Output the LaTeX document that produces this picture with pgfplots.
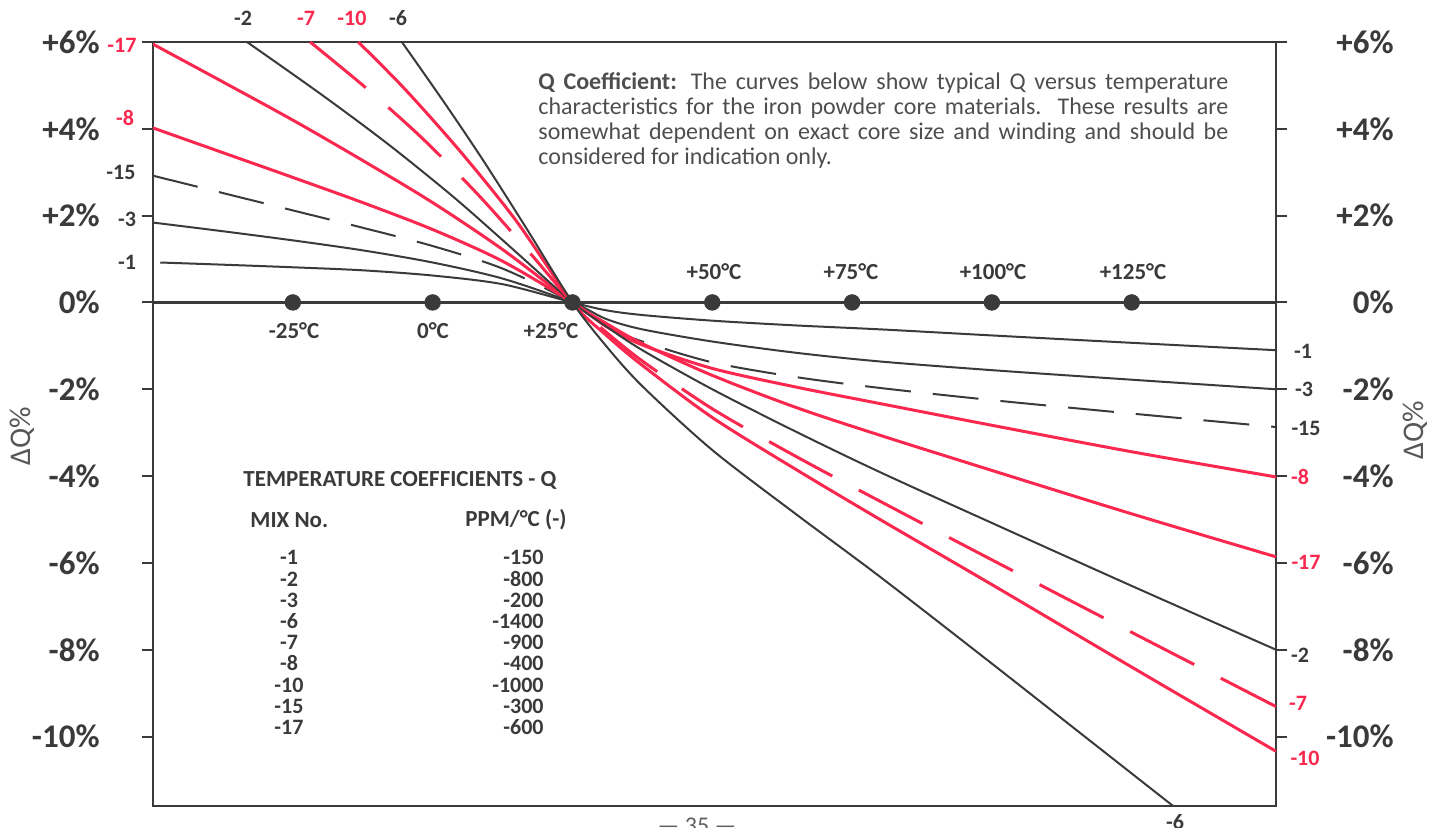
\documentclass[border=0pt]{standalone}
\usepackage{pgfplots}
\pgfplotsset{compat=1.18}
\usepackage{fontspec}
\setmainfont{Carlito}
\definecolor{ink}{RGB}{58,58,58}
\definecolor{qred}{RGB}{250,40,78}
\begin{document}
\begin{tikzpicture}[
  ylab/.style={font=\fontsize{16.5}{16.5}\selectfont\bfseries, text=ink, inner sep=0pt, anchor=east},
  clab/.style={font=\fontsize{11}{11}\selectfont\bfseries, text=ink, inner sep=0pt},
  rlab/.style={clab, text=qred},
  tlab/.style={font=\fontsize{11.5}{11.5}\selectfont\bfseries, text=ink, inner sep=0pt},
  tab/.style={font=\fontsize{11.5}{11.5}\selectfont\bfseries, text=ink, inner sep=0pt},
  tabn/.style={font=\fontsize{11}{11}\selectfont\bfseries, text=ink, inner sep=0pt},
]
\begin{axis}[
  at={(0pt,0pt)}, anchor=south west,
  scale only axis, width=561.5pt, height=382pt,
  xmin=-50, xmax=150.8, ymin=-11.6, ymax=6,
  axis line style={ink, line width=1pt},
  xtick=\empty, ytick={-10,-8,-6,-4,-2,0,2,4,6}, yticklabel=\empty,
  ytick pos=both, tick align=outside, major tick length=5.5pt,
  every tick/.style={ink, line width=1pt},
  clip=true,
]
\addplot[ink, line width=1.5pt] coordinates {(-50,0) (150.8,0)};
% -1
\addplot[ink, line width=1pt, smooth] coordinates {(-48.7,0.92) (-37.5,0.87) (-25,0.81) (-12.5,0.74) (0,0.62) (12.5,0.42) (25,0) (31,-0.18) (37.5,-0.29) (50,-0.42) (65,-0.53) (80,-0.62) (100,-0.76) (125,-0.93) (150.8,-1.1)};
% -3
\addplot[ink, line width=1pt, smooth] coordinates {(-50,1.84) (-37.5,1.64) (-25,1.43) (-12.5,1.2) (0,0.92) (12.5,0.55) (25,0) (31,-0.38) (37.5,-0.62) (50,-0.9) (65,-1.16) (80,-1.36) (100,-1.56) (125,-1.78) (150.8,-2.0)};
% -15
\addplot[ink, line width=1pt, smooth, dash pattern=on 23pt off 11pt] coordinates {(-50,2.92) (-37.5,2.52) (-25,2.12) (-12.5,1.72) (0,1.3) (12.5,0.78) (25,0) (31,-0.55) (37.5,-0.9) (50,-1.38) (65,-1.72) (80,-1.97) (100,-2.25) (125,-2.56) (150.8,-2.87)};
% -8
\addplot[qred, line width=1.5pt, smooth] coordinates {(-50,4.02) (-37.5,3.45) (-25,2.88) (-12.5,2.3) (0,1.68) (12.5,0.95) (25,0) (31,-0.55) (37.5,-0.98) (50,-1.52) (65,-1.95) (80,-2.33) (100,-2.83) (125,-3.44) (150.8,-4.02)};
% -17
\addplot[qred, line width=1.5pt, smooth] coordinates {(-50,5.95) (-37.5,5.08) (-25,4.2) (-12.5,3.27) (0,2.3) (12.5,1.22) (25,0) (31,-0.48) (37.5,-0.95) (50,-1.68) (65,-2.42) (80,-3.06) (100,-3.87) (125,-4.87) (150.8,-5.86)};
% -2
\addplot[ink, line width=1pt, smooth] coordinates {(-33.2,6) (-20,4.8) (-8,3.65) (4,2.4) (15,1.15) (25,0) (31,-0.55) (37.5,-1.1) (50,-2.0) (65,-2.98) (80,-3.91) (100,-5.08) (125,-6.53) (150.8,-8.0)};
% -7
\addplot[qred, line width=1.5pt, smooth, dash pattern=on 36pt off 15pt] coordinates {(-21.9,6) (-12,4.95) (-2,3.8) (8,2.5) (17,1.2) (25,0) (31,-0.68) (37.5,-1.35) (50,-2.45) (65,-3.55) (80,-4.58) (100,-5.93) (125,-7.6) (150.8,-9.31)};
% -10
\addplot[qred, line width=1.5pt, smooth] coordinates {(-13.3,6) (-5,4.92) (5,3.47) (15,1.87) (25,0) (31,-0.75) (37.5,-1.45) (50,-2.65) (65,-3.85) (80,-5.0) (100,-6.5) (125,-8.4) (150.8,-10.34)};
% -6
\addplot[ink, line width=1pt, smooth] coordinates {(-5.5,6) (2,4.62) (9,3.28) (17,1.66) (25,0) (31,-1.0) (37.5,-1.93) (50,-3.4) (65,-4.88) (80,-6.32) (100,-8.32) (115.8,-9.92) (132.4,-11.6)};
% temperature dots
\addplot[only marks, mark=*, mark size=3.9pt, ink, mark options={fill=ink, draw=ink}] coordinates {(-25,0) (0,0) (25,0) (50,0) (75,0) (100,0) (125,0)};
\end{axis}
% y tick labels
\node[ylab] at (-26.5pt,382pt) {+6\%};
\node[ylab] at (-26.5pt,338.6pt) {+4\%};
\node[ylab] at (-26.5pt,295.2pt) {+2\%};
\node[ylab] at (-26.5pt,251.8pt) {0\%};
\node[ylab] at (-26.5pt,208.4pt) {-2\%};
\node[ylab] at (-26.5pt,165pt) {-4\%};
\node[ylab] at (-26.5pt,121.6pt) {-6\%};
\node[ylab] at (-26.5pt,78.1pt) {-8\%};
\node[ylab] at (-26.5pt,34.7pt) {-10\%};
\node[ylab] at (620.5pt,382pt) {+6\%};
\node[ylab] at (620.5pt,338.6pt) {+4\%};
\node[ylab] at (620.5pt,295.2pt) {+2\%};
\node[ylab] at (620.5pt,251.8pt) {0\%};
\node[ylab] at (620.5pt,208.4pt) {-2\%};
\node[ylab] at (620.5pt,165pt) {-4\%};
\node[ylab] at (620.5pt,121.6pt) {-6\%};
\node[ylab] at (620.5pt,78.1pt) {-8\%};
\node[ylab] at (620.5pt,34.7pt) {-10\%};
% axis titles
\node[font=\fontsize{15}{15}\selectfont, text=ink!85, rotate=90, inner sep=0pt] at (-65.5pt,185pt) {ΔQ\%};
\node[font=\fontsize{15}{15}\selectfont, text=ink!85, rotate=90, inner sep=0pt] at (631pt,188pt) {ΔQ\%};
% curve labels: left
\node[rlab] at (-15.5pt,380.5pt) {-17};
\node[rlab] at (-14pt,344pt) {-8};
\node[clab] at (-16pt,317pt) {-15};
\node[clab] at (-13pt,293.5pt) {-3};
\node[clab] at (-13pt,272pt) {-1};
% top
\node[clab] at (45pt,394pt) {-2};
\node[rlab] at (76.5pt,394pt) {-7};
\node[rlab] at (99.5pt,394pt) {-10};
\node[clab] at (122.5pt,394pt) {-6};
% right
\node[clab] at (575pt,227.5pt) {-1};
\node[clab] at (575.5pt,208.5pt) {-3};
\node[clab] at (576.5pt,189pt) {-15};
\node[rlab] at (573.5pt,164.5pt) {-8};
\node[rlab] at (576.5pt,122pt) {-17};
\node[clab] at (573.5pt,75.5pt) {-2};
\node[rlab] at (572.5pt,51.5pt) {-7};
\node[rlab] at (576pt,24pt) {-10};
% bottom
\node[clab] at (511pt,-8pt) {-6};
% temperature labels
\node[tlab] at (70.5pt,237.5pt) {-25°C};
\node[tlab] at (140pt,237.5pt) {0°C};
\node[tlab] at (199pt,237.5pt) {+25°C};
\node[tlab] at (280.5pt,267pt) {+50°C};
\node[tlab] at (349pt,267pt) {+75°C};
\node[tlab] at (420pt,267pt) {+100°C};
\node[tlab] at (490pt,267pt) {+125°C};
% description
\node[anchor=north west, inner sep=0pt, text width=345pt, align=justify, font=\fontsize{12}{12.5}\selectfont, text=ink!90] at (192.5pt,367pt)
 {\textbf{Q Coefficient:} The curves below show typical Q versus temperature\linebreak characteristics for the iron powder core materials. These results are\linebreak somewhat dependent on exact core size and winding and should be\linebreak considered for indication only.};
% table
\node[tab, anchor=west] at (45pt,163pt) {TEMPERATURE COEFFICIENTS - Q};
\node[tab, anchor=west] at (48.5pt,143pt) {MIX No.};
\node[tab, anchor=west] at (156pt,143pt) {PPM/°C (-)};
\foreach \a/\b [count=\i from 0] in {-1/-150,-2/-800,-3/-200,-6/-1400,-7/-900,-8/-400,-10/-1000,-15/-300,-17/-600}{
  \node[tabn, anchor=base] at ({68pt},{120.5pt-10.6pt*\i}) {\a};
  \node[tabn, anchor=base east] at ({195.5pt},{120.5pt-10.6pt*\i}) {\b};
}
% page number (cut by the page edge, as in the original scan)
\node[font=\fontsize{12}{12}\selectfont, text=ink!80, anchor=north, inner sep=0pt] at (272pt,-6pt) {— 35 —};
\pgfresetboundingbox
\path[use as bounding box] (-76.5pt,-11pt) rectangle (642.5pt,403pt);
\end{tikzpicture}
\end{document}
